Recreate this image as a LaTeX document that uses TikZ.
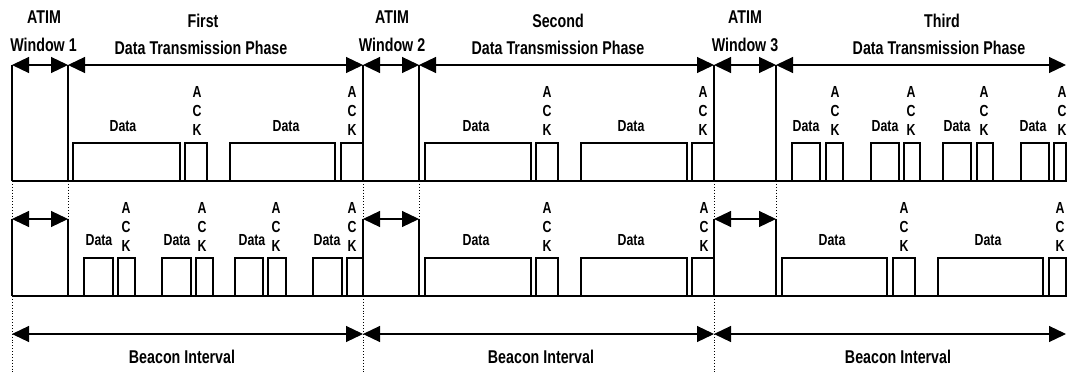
\documentclass[tikz,border=0pt]{standalone}
\usepackage{fontspec}
\setmainfont{Liberation Sans}[FakeStretch=0.77]
\usetikzlibrary{arrows.meta}

\begin{document}
\begin{tikzpicture}[x=1pt,y=-1pt,
  tick/.style={line width=2pt},
  baseline rule/.style={line width=1.8pt},
  slot/.style={draw, line width=1.1pt},
  span/.style={line width=1.2pt,
    {Triangle[length=17pt,width=16pt]}-{Triangle[length=17pt,width=16pt]}},
  guide/.style={line width=0.9pt, dotted},
  head/.style={font=\bfseries\fontsize{18.5}{20}\selectfont, inner sep=0pt},
  lbl/.style={font=\bfseries\fontsize{16}{19}\selectfont, inner sep=0pt, align=center},
]
\useasboundingbox (0,0) rectangle (1067,374);
\clip (0,0) rectangle (1067,374);

% beacon starts (b) and ATIM window ends (a), with their levels
\foreach \n/\x in {b0/12,a0/68,b1/363,a1/419,b2/714,a2/776,b3/1066}{
  \coordinate (\n-top)  at (\x,65);
  \coordinate (\n-row1) at (\x,181);
  \coordinate (\n-atim) at (\x,219);
  \coordinate (\n-row2) at (\x,296);
  \coordinate (\n-bi)   at (\x,334);
  \coordinate (\n-end)  at (\x,374);
}

% time axes of both stations
\draw[baseline rule] (b0-row1) -- ([xshift=3pt]b3-row1);
\draw[baseline rule] (b0-row2) -- ([xshift=3pt]b3-row2);

% frames of station 1
\foreach \a/\b in {73/180,185/207,230/335,341/363,
                   425/531,536/558,581/687,692/714,
                   792/820,826/843,871/899,904/920,943/971,977/993,1021/1049,1054/1066}
  \draw[slot] (\a,181) -- (\a,143) -- (\b,143) -- (\b,181);

% frames of station 2
\foreach \a/\b in {84/113,118/135,162/191,196/213,235/263,268/286,313/342,347/363,
                   425/531,536/558,581/687,692/714,
                   782/887,893/915,938/1043,1049/1066}
  \draw[slot] (\a,296) -- (\a,258) -- (\b,258) -- (\b,296);

% period boundaries
\foreach \n in {b0,a0,b1,a1,b2,a2}{
  \draw[tick] (\n-top) -- (\n-row1);
  \draw[tick] (\n-atim) -- (\n-row2);
  \draw[guide] (\n-row1) -- (\n-atim);
}
\foreach \n in {b0,b1,b2}
  \draw[guide] (\n-row2) -- (\n-end);

% spans
\foreach \p/\q in {b0/a0,a0/b1,b1/a1,a1/b2,b2/a2,a2/b3}
  \draw[span] (\p-top) -- (\q-top);
\foreach \p/\q in {b0/a0,b1/a1,b2/a2}
  \draw[span] (\p-atim) -- (\q-atim);
\foreach \p/\q in {b0/b1,b1/b2,b2/b3}
  \draw[span] (\p-bi) -- (\q-bi);

% headings
\node[head] (atim1) at (44,17.5) {ATIM};
\node[head] (win1)  at (43.5,45) {Window 1};
\node[head] (atim2) at (392,17.5) {ATIM};
\node[head] (win2)  at (392,45) {Window 2};
\node[head] (atim3) at (745,17.5) {ATIM};
\node[head] (win3)  at (745,45) {Window 3};
\node[head] (ph1)  at (203,21) {First};
\node[head] (dtp1) at (201,47.5) {Data Transmission Phase};
\node[head] (ph2)  at (558,21) {Second};
\node[head] (dtp2) at (558,47.5) {Data Transmission Phase};
\node[head] (ph3)  at (942,21) {Third};
\node[head] (dtp3) at (939,47.5) {Data Transmission Phase};

% frame labels, station 1
\foreach \x [count=\i] in {123,286,476,631,806,885,957,1033}
  \node[lbl] (d1-\i) at (\x,126) {Data};
\foreach \x [count=\i] in {197,352,547,703,835,911,984,1062}
  \node[lbl] (k1-\i) at (\x,111) {A\\C\\K};

% frame labels, station 2
\foreach \x [count=\i] in {99,177,252,327,476,631,832,988}
  \node[lbl] (d2-\i) at (\x,240.5) {Data};
\foreach \x [count=\i] in {126,202,276,352,547,704,904,1060}
  \node[lbl] (k2-\i) at (\x,227) {A\\C\\K};

% beacon intervals
\node[head] (bi1) at (182,357) {Beacon Interval};
\node[head] (bi2) at (541,357) {Beacon Interval};
\node[head] (bi3) at (898,357) {Beacon Interval};
\end{tikzpicture}
\end{document}
